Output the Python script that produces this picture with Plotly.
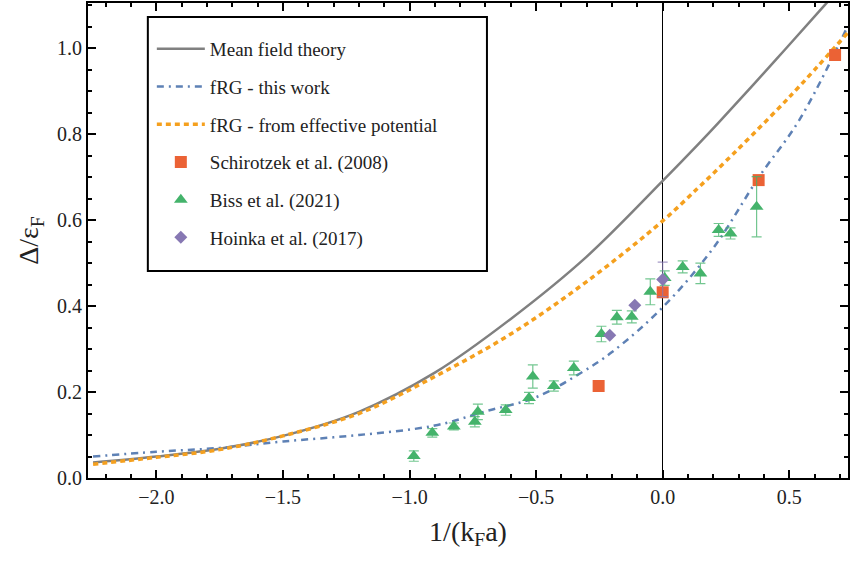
import plotly.graph_objects as go

# ---- curves ----
mf_x = [-2.25, -2.0, -1.75, -1.5, -1.2, -0.9, -0.6, -0.3, 0.0, 0.14, 0.22, 0.45, 0.64, 0.75]
mf_y = [0.036, 0.050, 0.068, 0.098, 0.154, 0.245, 0.370, 0.515, 0.691, 0.776, 0.826, 0.975, 1.100, 1.173]

frg_x = [-2.25, -2.0, -1.75, -1.5, -1.2, -0.9, -0.7, -0.5, -0.33, -0.2, 0.0, 0.2, 0.38, 0.54, 0.73]
frg_y = [0.050, 0.061, 0.070, 0.085, 0.100, 0.122, 0.155, 0.188, 0.242, 0.293, 0.397, 0.535, 0.700, 0.833, 1.050]

pot_x = [-2.25, -2.0, -1.75, -1.5, -1.2, -0.9, -0.6, -0.3, 0.0, 0.14, 0.22, 0.5, 0.73]
pot_y = [0.032, 0.048, 0.066, 0.098, 0.150, 0.236, 0.335, 0.457, 0.598, 0.675, 0.720, 0.886, 1.035]

# ---- experimental data ----
sch_x = [-0.253, 0.0, 0.379, 0.681]
sch_y = [0.214, 0.432, 0.693, 0.984]

biss_x = [-0.983, -0.91, -0.825, -0.742, -0.73, -0.62, -0.528, -0.513, -0.43, -0.351,
          -0.242, -0.181, -0.122, -0.049, 0.008, 0.079, 0.149, 0.221, 0.268, 0.371]
biss_y = [0.051, 0.105, 0.120, 0.131, 0.154, 0.158, 0.186, 0.236, 0.214, 0.256,
          0.335, 0.374, 0.375, 0.433, 0.465, 0.491, 0.476, 0.577, 0.569, 0.631]
biss_err = [0.012, 0.010, 0.008, 0.012, 0.018, 0.012, 0.013, 0.027, 0.012, 0.016,
            0.018, 0.016, 0.014, 0.030, 0.017, 0.014, 0.024, 0.015, 0.013, 0.070]

hoi_x = [-0.209, -0.11, 0.0]
hoi_y = [0.332, 0.402, 0.462]
hoi_err = [0.0, 0.0, 0.04]

x_ticks = [-2.0, -1.5, -1.0, -0.5, 0.0, 0.5]
y_ticks = [0.0, 0.2, 0.4, 0.6, 0.8, 1.0]

FONT = "Liberation Serif, Times New Roman, DejaVu Serif, serif"
GRAY = "#808080"
BLUE = "#5E81B5"
ORANGE = "#F5A01E"
RED = "#EB6235"
GREEN = "#44B36B"
PURPLE = "#8778B3"

fig = go.Figure()
fig.add_trace(go.Scatter(x=mf_x, y=mf_y, mode="lines", name="Mean field theory",
                         legendgroup="a", line=dict(color=GRAY, width=2.5, shape="spline")))
fig.add_trace(go.Scatter(x=frg_x, y=frg_y, mode="lines", name="fRG - this work",
                         legendgroup="b",
                         line=dict(color=BLUE, width=2.5, dash="7px,5px,2px,5px", shape="spline")))
fig.add_trace(go.Scatter(x=pot_x, y=pot_y, mode="lines", name="fRG - from effective potential",
                         legendgroup="c",
                         line=dict(color=ORANGE, width=3.5, dash="5px,4px", shape="spline")))
fig.add_trace(go.Scatter(x=sch_x, y=sch_y, mode="markers", name="Schirotzek et al. (2008)",
                         legendgroup="d", marker=dict(symbol="square", size=12, color=RED)))
fig.add_trace(go.Scatter(x=biss_x, y=biss_y, mode="markers", name="Biss et al. (2021)",
                         legendgroup="e",
                         marker=dict(symbol="triangle-up", size=12, color=GREEN),
                         error_y=dict(type="data", array=biss_err, visible=True,
                                      color="rgba(68,179,107,0.75)", thickness=1.2, width=5)))
fig.add_trace(go.Scatter(x=hoi_x, y=hoi_y, mode="markers", name="Hoinka et al. (2017)",
                         legendgroup="f",
                         marker=dict(symbol="diamond", size=10, color=PURPLE),
                         error_y=dict(type="data", array=hoi_err, visible=True,
                                      color="rgba(135,120,179,0.75)", thickness=1.2, width=5)))

axis_common = dict(
    showgrid=False, ticks="inside", ticklen=8, tickwidth=1.8, tickcolor="black",
    showline=True, linewidth=2, linecolor="black", mirror="ticks",
    tickfont=dict(family=FONT, size=20, color="#222"),
    minor=dict(ticks="inside", ticklen=4, tickwidth=1.5, tickcolor="black", showgrid=False),
)

fig.update_xaxes(**axis_common, range=[-2.27, 0.732], tickvals=x_ticks, tickformat=".1f",
                 minor_dtick=0.1, zeroline=True, zerolinecolor="black", zerolinewidth=1,
                 title=dict(text="1/(k<sub>F</sub>a)", font=dict(family=FONT, size=28, color="#222"),
                            standoff=14))
fig.update_yaxes(**axis_common, range=[0, 1.105], tickvals=y_ticks, tickformat=".1f",
                 minor_dtick=0.05, zeroline=False,
                 title=dict(text="Δ/ε<sub>F</sub>", font=dict(family=FONT, size=28, color="#222"),
                            standoff=10))

# legend frame drawn as a box in paper space, legend itself placed inside it
fig.add_shape(type="rect", xref="paper", yref="paper",
              x0=(148 - 88) / 762, x1=(488 - 88) / 762,
              y0=(478 - 271) / 475, y1=(478 - 17) / 475,
              line=dict(color="black", width=2), fillcolor="white", layer="above")

fig.update_layout(
    width=850, height=563,
    margin=dict(l=88, r=0, t=3, b=85),
    plot_bgcolor="white", paper_bgcolor="white",
    font=dict(family=FONT, color="#222"),
    legend=dict(x=(152 - 88) / 762, y=(478 - 30) / 475, xanchor="left", yanchor="top",
                bgcolor="rgba(0,0,0,0)", borderwidth=0,
                font=dict(family=FONT, size=19, color="#222"),
                traceorder="grouped", tracegroupgap=10, itemwidth=48),
)

fig.write_html("out.html")
